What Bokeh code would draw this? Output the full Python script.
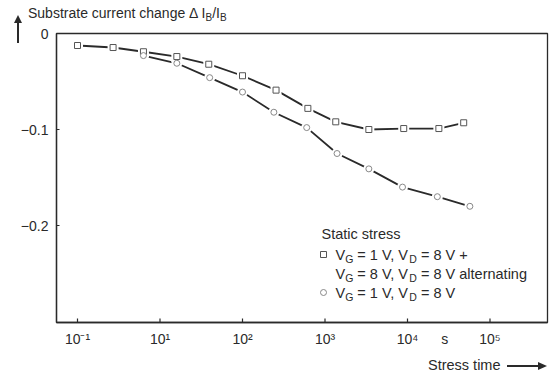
from bokeh.plotting import figure
from bokeh.models import Range1d, FixedTicker, Label, Div
from bokeh.layouts import column
from bokeh.embed import file_html
from bokeh.resources import INLINE

# ---- data ----
time_alt = [1, 2.7, 6.3, 16, 39, 100, 255, 620, 1350, 3400, 9000, 24000, 48000]
dib_alt = [-0.0125, -0.0146, -0.019, -0.024, -0.032, -0.044, -0.059, -0.078,
           -0.092, -0.100, -0.099, -0.099, -0.093]
time_static = [6.3, 16, 40, 100, 240, 600, 1400, 3400, 8700, 23000, 57000]
dib_static = [-0.023, -0.031, -0.046, -0.061, -0.082, -0.098, -0.125, -0.141,
              -0.160, -0.170, -0.180]
x_ticks = [1, 10, 100, 1000, 1e4, 1e5]
x_tick_labels = ["10⁻¹", "10¹", "10²", "10³", "10⁴", "10⁵"]
unit_pos, unit_label = 10 ** 4.45, "s"
y_ticks = [0, -0.1, -0.2]
y_tick_labels = ["0", "−0.1", "−0.2"]

# ---- layout (page pixels) ----
W_, H_ = 554, 375
TD, BD = 22, 23                      # heights of top / bottom text strips
FL, FR, FT, FB = 56, 547, 33, 322    # plot frame in page pixels
XL0, XL1 = -(77 - FL) / 82.5, (FR - 77) / 82.5
Y0, Y1 = -(FB - FT) / 960.0, 0.0
FONT = "Liberation Sans"
INK = "#2a2a2a"
FIG_H = H_ - TD - BD

p = figure(width=W_, height=FIG_H, x_axis_type="log",
           x_range=Range1d(10 ** XL0, 10 ** XL1), y_range=Range1d(Y0, Y1),
           output_backend="svg", toolbar_location=None,
           min_border_left=FL, min_border_right=W_ - FR,
           min_border_top=FT - TD, min_border_bottom=(H_ - BD) - FB, margin=0)
p.xgrid.visible = False
p.ygrid.visible = False
p.outline_line_color = INK
p.outline_line_width = 1.3
p.background_fill_color = "white"
p.border_fill_color = None

for ax in (p.xaxis[0], p.yaxis[0]):
    ax.axis_line_color = INK
    ax.axis_line_width = 1.3
    ax.major_tick_line_color = INK
    ax.major_tick_out = 0
    ax.minor_tick_line_color = None
    ax.major_label_text_font = FONT
    ax.major_label_text_font_size = "14px"
    ax.major_label_text_color = INK
    ax.major_label_standoff = 8

labels_x = {float(t): l for t, l in zip(x_ticks, x_tick_labels)}
labels_x[float(unit_pos)] = unit_label
p.xaxis[0].ticker = FixedTicker(ticks=list(x_ticks) + [unit_pos])
p.xaxis[0].major_tick_in = 0
p.xaxis[0].major_label_overrides = labels_x
p.yaxis[0].ticker = FixedTicker(ticks=y_ticks)
p.yaxis[0].major_tick_in = 3
p.yaxis[0].major_label_overrides = {float(t): l for t, l in zip(y_ticks, y_tick_labels)}

DY = (Y1 - Y0) / (FB - FT)   # data units per pixel (y)


def sx(px):   # page pixel -> frame-relative screen x
    return px - FL


def sy(py):   # page pixel -> frame-relative screen y (up from frame bottom)
    return FB - py


def px2x(px):
    return 10 ** (XL0 + (px - FL) / (FR - FL) * (XL1 - XL0))


def py2y(py):
    return Y1 - (py - FT) / (FB - FT) * (Y1 - Y0)


# inward bottom tick marks at the decades
p.segment(x0=x_ticks, y0=[Y0] * len(x_ticks), x1=x_ticks, y1=[Y0 + 4 * DY] * len(x_ticks),
          line_color=INK, line_width=1.2)

# ---- curves ----
p.line(time_alt, dib_alt, line_color=INK, line_width=1.8)
p.line(time_static, dib_static, line_color=INK, line_width=1.8)
p.scatter(time_alt, dib_alt, marker="square", size=11, fill_color="white", line_color=None)
p.scatter(time_static, dib_static, marker="circle", size=11, fill_color="white", line_color=None)
p.scatter(time_alt, dib_alt, marker="square", size=6, fill_color="white",
          line_color="#555", line_width=1)
p.scatter(time_static, dib_static, marker="circle", size=6, fill_color="white",
          line_color="#888", line_width=1)

# ---- rich text helper (legend inside the frame) ----
CW = {' ': 278, '=': 584, '1': 556, '8': 556, ',': 278, '+': 584, 'V': 667, 'G': 778,
      'D': 722, 'B': 667, 'I': 278, '/': 278, 'Δ': 668, 'a': 556, 'l': 222, 't': 278,
      'e': 556, 'r': 333, 'n': 556, 'i': 222, 'g': 556, 'S': 667, 'u': 556, 'b': 556,
      's': 500, 'c': 500, 'h': 556, 'm': 833, '.': 278}


def tw(s, size):
    return sum(CW.get(c, 556) for c in s) * size / 1000.0


def rich(pieces, px, py, size=14.5, sub_size=10.5):
    for text, sub in pieces:
        sz = sub_size if sub else size
        yy = py + 4 if sub else py
        lead = len(text) - len(text.lstrip(" "))
        trail = len(text) - len(text.rstrip(" "))
        px += lead * CW[' '] * sz / 1000.0
        core = text.strip(" ")
        p.add_layout(Label(x=sx(px), y=sy(yy), x_units="screen", y_units="screen",
                           text=core, text_font=FONT,
                           text_font_size=f"{sz}px", text_color=INK,
                           text_baseline="middle", text_align="left"))
        px += tw(core, sz) + trail * CW[' '] * sz / 1000.0


rich([("Static stress", False)], 321, 233)
p.scatter([px2x(323)], [py2y(254)], marker="square", size=6, fill_color="white",
          line_color="#555", line_width=1)
rich([("V", False), ("G", True), (" = 1 V, V", False), ("D", True), (" = 8 V +", False)], 335, 254)
rich([("V", False), ("G", True), (" = 8 V, V", False), ("D", True), (" = 8 V alternating", False)], 335, 273)
p.scatter([px2x(323)], [py2y(292)], marker="circle", size=6, fill_color="white",
          line_color="#888", line_width=1)
rich([("V", False), ("G", True), (" = 1 V, V", False), ("D", True), (" = 8 V", False)], 335, 292)

# ---- text strips outside the frame (title above, axis title below) ----
SUB = "font-size:10px;vertical-align:-3px;line-height:0;"
top_html = (
    f'<div style="position:relative;width:{W_}px;height:{TD}px;font-family:\'{FONT}\';color:{INK};">'
    f'<div style="position:absolute;left:17.4px;top:21px;width:1.3px;height:22px;background:{INK};"></div>'
    f'<div style="position:absolute;left:14px;top:15px;width:0;height:0;'
    f'border-left:4px solid transparent;border-right:4px solid transparent;border-bottom:8px solid {INK};"></div>'
    f'<span style="position:absolute;left:28px;top:5px;font-size:14px;line-height:17px;white-space:nowrap;">'
    f'Substrate current change Δ I<sub style="{SUB}">B</sub>/I<sub style="{SUB}">B</sub></span>'
    '</div>'
)
bot_html = (
    f'<div style="position:relative;width:{W_}px;height:{BD}px;font-family:\'{FONT}\';color:{INK};">'
    f'<span style="position:absolute;left:428px;top:5px;font-size:14.5px;line-height:17px;white-space:nowrap;">'
    'Stress time</span>'
    f'<div style="position:absolute;left:507px;top:13.4px;width:33px;height:1.2px;background:{INK};"></div>'
    f'<div style="position:absolute;left:538px;top:10px;width:0;height:0;'
    f'border-top:4px solid transparent;border-bottom:4px solid transparent;border-left:9px solid {INK};"></div>'
    '</div>'
)
top = Div(text=top_html, width=W_, height=TD, margin=0, styles={"overflow": "visible"})
bot = Div(text=bot_html, width=W_, height=BD, margin=0, styles={"overflow": "visible"})

layout = column(top, p, bot, spacing=0, margin=0)
open("out.html", "w").write(file_html(layout, INLINE))
